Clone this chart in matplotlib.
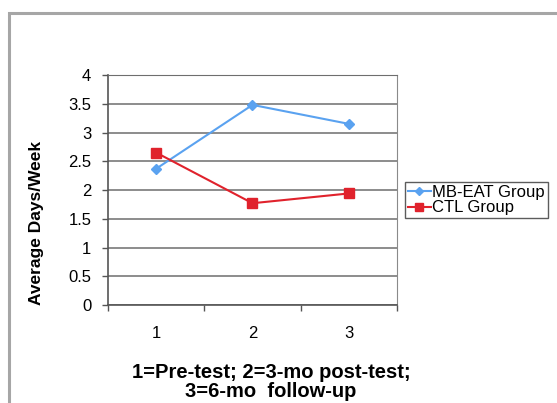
import matplotlib
matplotlib.use('Agg')
import matplotlib.pyplot as plt
from matplotlib.patches import Rectangle

plt.rcParams['font.family'] = ['Liberation Sans', 'DejaVu Sans']

# data
visits = [1, 2, 3]
mbeat = [2.37, 3.48, 3.15]
ctl = [2.65, 1.77, 1.94]
yticks = [0, 0.5, 1, 1.5, 2, 2.5, 3, 3.5, 4]
ytick_labels = ['0', '0.5', '1', '1.5', '2', '2.5', '3', '3.5', '4']

W, H = 557, 403
fig = plt.figure(figsize=(W / 100, H / 100), dpi=100)

# outer chart frame (runs off the picture on the right and bottom)
fig.patches.append(Rectangle((9 / W, -0.1), 1.2, 1.1 - 13 / H,
                             transform=fig.transFigure, fill=False,
                             edgecolor='#a6a6a6', linewidth=2.2))

ax = fig.add_axes([108 / W, (H - 305) / H, 289 / W, 230 / H])

ax.plot(visits, mbeat, color='#5aa2f0', linewidth=1.5, marker='D', markersize=5,
        label='MB-EAT Group')
ax.plot(visits, ctl, color='#e0222c', linewidth=1.5, marker='s', markersize=7,
        label='CTL Group')

ax.set_xlim(0.5, 3.5)
ax.set_ylim(0, 4)
ax.set_yticks(yticks)
ax.set_yticklabels(ytick_labels)
ax.set_xticks(visits)
ax.set_xticklabels([str(v) for v in visits])
ax.set_xticks([0.5, 1.5, 2.5, 3.5], minor=True)

ax.tick_params(axis='x', which='major', length=0, pad=15, labelsize=12)
ax.tick_params(axis='x', which='minor', length=4, width=1, color='#555555', direction='out')
ax.tick_params(axis='y', length=4, width=1, color='#555555', pad=8, labelsize=12)

ax.grid(axis='y', color='#6e6e6e', linewidth=1.1)
ax.set_axisbelow(True)
for s in ['left', 'bottom']:
    ax.spines[s].set_color('#555555')
    ax.spines[s].set_linewidth(1.2)
ax.spines['right'].set_color('#8a8a8a')
ax.spines['top'].set_color('#6e6e6e')

fig.text(37 / W, 1 - 223 / H, 'Average Days/Week', rotation=90, ha='center', va='center',
         fontsize=12.5, fontweight='bold')
fig.text(271 / W, 1 - 382 / H, '1=Pre-test; 2=3-mo post-test;\n3=6-mo  follow-up',
         ha='center', va='center', fontsize=14.5, fontweight='bold', linespacing=0.95)

leg = ax.legend(loc='center left', bbox_to_anchor=(405 / W, 1 - 200 / H),
                bbox_transform=fig.transFigure, fontsize=12, frameon=True, fancybox=False,
                handlelength=1.4, handletextpad=0.1, borderpad=0.15, labelspacing=0.05,
                borderaxespad=0, markerscale=0.8)
leg.get_frame().set_edgecolor('#333333')
leg.get_frame().set_linewidth(1.0)

plt.savefig('out.png', dpi=100)
